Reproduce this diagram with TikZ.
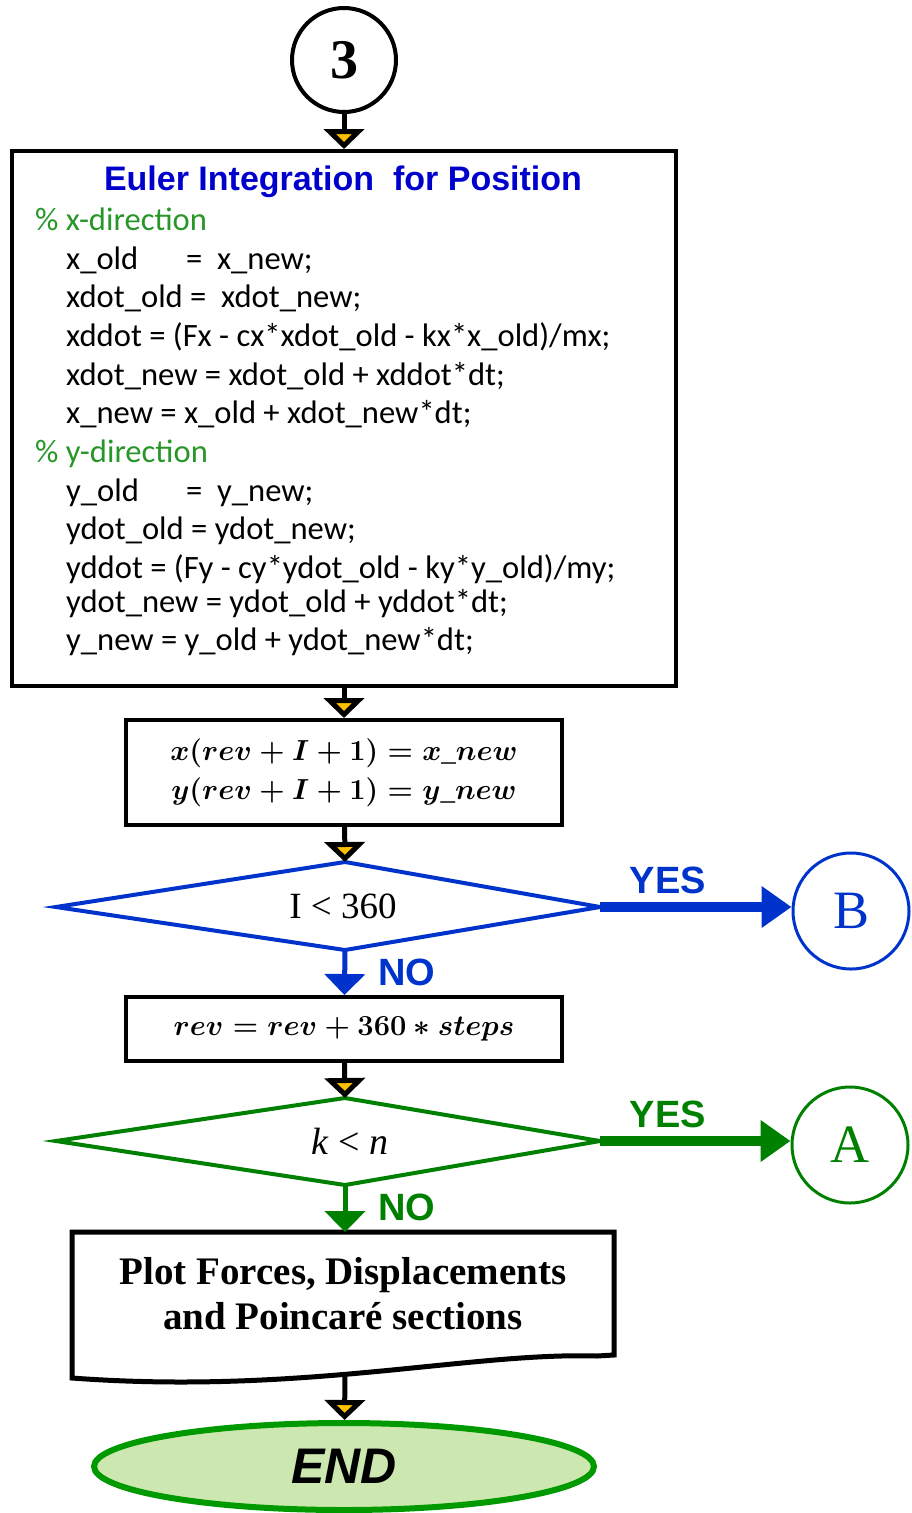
\RequirePackage{fix-cm}
\documentclass[tikz,border=0pt]{standalone}
\usepackage{fontspec}
\setmainfont{Liberation Serif}
\newfontfamily\codefont{Carlito}
\newfontfamily\headfont{Liberation Sans}
\usetikzlibrary{shapes.geometric,arrows.meta}

\definecolor{titleblue}{RGB}{0,0,205}
\definecolor{commentgreen}{RGB}{40,150,40}
\definecolor{loopblue}{RGB}{0,51,204}
\definecolor{loopgreen}{RGB}{0,128,0}
\definecolor{tipyellow}{RGB}{255,192,0}
\definecolor{endfill}{RGB}{204,232,176}
\definecolor{endline}{RGB}{0,153,0}

\tikzset{
  flow/.style={draw,line width=5pt,
    -{Triangle[width=40pt,length=20pt,line width=5pt,fill=tipyellow]}},
  yesflow/.style={draw,line width=10pt,-{Triangle[width=40pt,length=30pt]}},
  noflow/.style={draw,line width=5pt,-{Triangle[width=40pt,length=21pt]}},
  codeline/.style={anchor=base west,inner sep=0pt,
    font=\codefont\fontsize{32.6}{38}\selectfont},
  comment/.style={codeline,text=commentgreen},
  answer/.style={inner sep=0pt,font=\headfont\bfseries\fontsize{38}{40}\selectfont},
  mathtext/.style={font=\boldmath\fontsize{29}{39}\selectfont}
}

\begin{document}
\begin{tikzpicture}[x=1pt,y=-1pt]
    \useasboundingbox (0,0) rectangle (912,1513);
    % blocks of the flow chart
    \begin{scope}[every node/.style={draw,line width=4pt,inner sep=0pt}]
      \node[circle,minimum size=104pt,font=\bfseries\fontsize{56}{56}\selectfont]
        (c3) at (344,60) {3};
      \node[minimum width=664pt,minimum height=535pt] (euler) at (344,418.5) {};
      \node[minimum width=436pt,minimum height=105pt,align=center,mathtext]
        (store) at (344,772.5)
        {$x(rev+I+1)=x\_new$\\$y(rev+I+1)=y\_new$};
      \node[minimum width=436pt,minimum height=64pt,mathtext] (revbox) at (344,1029)
        {$rev=rev+360\ast steps$};
      \node[circle,line width=3pt,draw=loopblue,text=loopblue,minimum size=116pt,
        font=\fontsize{54}{54}\selectfont] (B) at (851,911) {B};
      \node[circle,line width=3pt,draw=loopgreen,text=loopgreen,minimum size=116pt,
        font=\fontsize{54}{54}\selectfont] (A) at (850,1145) {A};
      \node[ellipse,line width=6pt,draw=endline,fill=endfill,minimum width=500pt,
        minimum height=87pt,font=\headfont\bfseries\itshape\fontsize{50}{50}\selectfont]
        (end) at (344,1466.5) {END};
    \end{scope}

    % decision diamonds
    \coordinate (i-top) at (345,862);
    \coordinate (i-right) at (600,907);
    \coordinate (i-bot) at (345,950);
    \coordinate (i-left) at (56,907);
    \draw[loopblue,line width=4pt,line join=miter] (i-top) -- (i-right) -- (i-bot) -- (i-left) -- cycle;
    \node[font=\fontsize{37}{37}\selectfont] (iloop) at (343,906) {I < 360};

    \coordinate (k-top) at (345,1098);
    \coordinate (k-right) at (600,1141);
    \coordinate (k-bot) at (345,1185);
    \coordinate (k-left) at (56,1141);
    \draw[loopgreen,line width=4pt,line join=miter] (k-top) -- (k-right) -- (k-bot) -- (k-left) -- cycle;
    \node[font=\fontsize{38}{38}\selectfont] (kloop) at (350,1141) {\textit{k} < \textit{n}};

    % output document with wavy bottom
    \draw[line width=5pt] (72,1232) -- (614,1232) -- (614,1355) -- (597,1356)
      .. controls (470,1352) and (300,1395) .. (72,1378) -- cycle;
    \node[align=center,font=\bfseries\fontsize{39}{45}\selectfont] (plot) at (343,1294)
      {Plot Forces, Displacements\\and Poincar\'e sections};
    \coordinate (plot-top) at (345,1232);
    \coordinate (plot-bot) at (345,1375);

    % contents of the integration block
    \node[anchor=base,inner sep=0pt,text=titleblue,
      font=\headfont\bfseries\fontsize{34}{40}\selectfont] (title) at (343,190)
      {Euler Integration\ \ for Position};
    \node[comment] (xc) at (35,230) {\% x-direction};
    \node[codeline] (x1) at (66,269) {\makebox[120pt][l]{x\_old}=\ \ x\_new;};
    \node[codeline] (x2) at (66,307) {xdot\_old =\ \ xdot\_new;};
    \node[codeline] (x3) at (66,346) {xddot = (Fx - cx*xdot\_old - kx*x\_old)/mx;};
    \node[codeline] (x4) at (66,385) {xdot\_new = xdot\_old + xddot*dt;};
    \node[codeline] (x5) at (66,423) {x\_new = x\_old + xdot\_new*dt;};
    \node[comment] (yc) at (35,462) {\% y-direction};
    \node[codeline] (y1) at (66,501) {\makebox[120pt][l]{y\_old}=\ \ y\_new;};
    \node[codeline] (y2) at (66,539) {ydot\_old = ydot\_new;};
    \node[codeline] (y3) at (66,578) {yddot = (Fy - cy*ydot\_old - ky*y\_old)/my;};
    \node[codeline] (y4) at (66,612) {ydot\_new = ydot\_old + yddot*dt;};
    \node[codeline] (y5) at (66,650) {y\_new = y\_old + ydot\_new*dt;};

    % branch labels
    \node[answer,text=loopblue] (yes1) at (668,880) {YES};
    \node[answer,text=loopblue] (no1) at (407,972) {NO};
    \node[answer,text=loopgreen] (yes2) at (668,1114) {YES};
    \node[answer,text=loopgreen] (no2) at (407,1207) {NO};

    % connectors
    \begin{scope}[line join=miter]
      \path (c3) edge[flow] (euler);
      \path (euler) edge[flow] (store);
      \path (store) edge[flow] (i-top);
      \path (i-right) edge[yesflow,loopblue] (i-right -| B.west);
      \path (i-bot) edge[noflow,loopblue] (revbox);
      \path (revbox) edge[flow] (k-top);
      \path (k-right) edge[yesflow,loopgreen] (k-right -| A.west);
      \path (k-bot) edge[noflow,loopgreen] (plot-top);
      \path (plot-bot) edge[flow] (end);
    \end{scope}
\end{tikzpicture}
\end{document}
